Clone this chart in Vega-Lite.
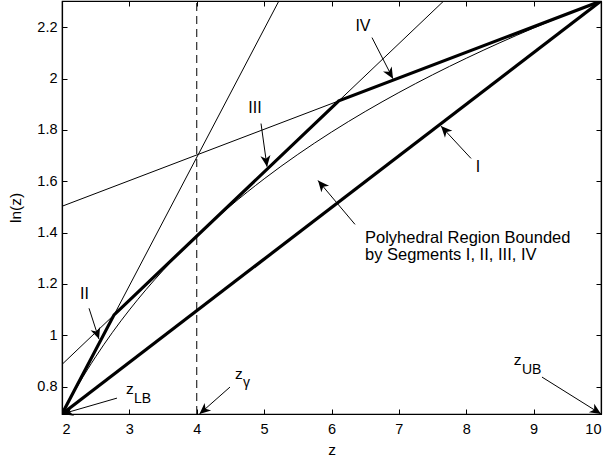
{
 "$schema": "https://vega.github.io/schema/vega-lite/v6.json",
 "width": 539, "height": 413,
 "autosize": "none",
 "padding": {"left": 62, "top": 1, "right": 8, "bottom": 47},
 "background": "white",
 "config": {
  "view": {"stroke": "black", "strokeWidth": 1.2},
  "font": "Liberation Sans",
  "axis": {"grid": false, "domainColor": "black", "domainWidth": 1.2, "tickColor": "black", "tickWidth": 1, "tickSize": -5, "labelFont": "Liberation Sans", "labelFontSize": 14.5, "labelColor": "black", "titleFont": "Liberation Sans", "titleFontSize": 15.5, "titleFontWeight": "normal", "titleColor": "black"}
 },
 "datasets": {
  "thin": [
   {"id": "ln", "z": 2, "y": 0.6931}, {"id": "ln", "z": 2.25, "y": 0.8109}, {"id": "ln", "z": 2.5, "y": 0.9163}, {"id": "ln", "z": 2.75, "y": 1.0116}, {"id": "ln", "z": 3, "y": 1.0986}, {"id": "ln", "z": 3.25, "y": 1.1787}, {"id": "ln", "z": 3.5, "y": 1.2528}, {"id": "ln", "z": 3.75, "y": 1.3218}, {"id": "ln", "z": 4, "y": 1.3863}, {"id": "ln", "z": 4.5, "y": 1.5041}, {"id": "ln", "z": 5, "y": 1.6094}, {"id": "ln", "z": 5.5, "y": 1.7047}, {"id": "ln", "z": 6, "y": 1.7918}, {"id": "ln", "z": 6.5, "y": 1.8718}, {"id": "ln", "z": 7, "y": 1.9459}, {"id": "ln", "z": 7.5, "y": 2.0149}, {"id": "ln", "z": 8, "y": 2.0794}, {"id": "ln", "z": 8.5, "y": 2.1401}, {"id": "ln", "z": 9, "y": 2.1972}, {"id": "ln", "z": 9.5, "y": 2.2513}, {"id": "ln", "z": 10, "y": 2.3026},
   {"id": "t2", "z": 2, "y": 0.6931}, {"id": "t2", "z": 5.2189, "y": 2.3026},
   {"id": "t4", "z": 2, "y": 0.8863}, {"id": "t4", "z": 7.6652, "y": 2.3026},
   {"id": "t10", "z": 2, "y": 1.5026}, {"id": "t10", "z": 10, "y": 2.3026}
  ],
  "thick": [
   {"id": "I", "z": 2, "y": 0.6931}, {"id": "I", "z": 10, "y": 2.3026},
   {"id": "up", "z": 2, "y": 0.6931}, {"id": "up", "z": 2.7726, "y": 1.0794}, {"id": "up", "z": 6.1087, "y": 1.9135}, {"id": "up", "z": 10, "y": 2.3026}
  ],
  "dash": [{"z": 4, "y": 0.6931, "ytop": 2.3026}],
  "arrows": [
   {"name": "II", "z": 2.549, "y": 0.985, "zs": 2.401, "ys": 1.105},
   {"name": "III", "z": 5.043, "y": 1.657, "zs": 4.954, "ys": 1.825},
   {"name": "IV", "z": 6.913, "y": 2.0, "zs": 6.601, "ys": 2.16},
   {"name": "I", "z": 7.625, "y": 1.815, "zs": 8.071, "ys": 1.689},
   {"name": "poly", "z": 5.8, "y": 1.603, "zs": 6.349, "ys": 1.432},
   {"name": "LB", "z": 2.0, "y": 0.6931, "zs": 2.816, "ys": 0.755},
   {"name": "gamma", "z": 4.04, "y": 0.6931, "zs": 4.493, "ys": 0.798},
   {"name": "UB", "z": 10.0, "y": 0.6931, "zs": 9.124, "ys": 0.837}
  ],
  "labels": [
   {"t": "II", "z": 2.334, "y": 1.16}, {"t": "III", "z": 4.865, "y": 1.884}, {"t": "IV", "z": 6.467, "y": 2.207}, {"t": "I", "z": 8.174, "y": 1.654}
  ],
  "zs": [
   {"t": "z", "z": 3.009, "y": 0.79}, {"t": "z", "z": 4.627, "y": 0.849}, {"t": "z", "z": 8.761, "y": 0.903}
  ],
  "subs": [
   {"t": "LB", "z": 3.069, "y": 0.752}, {"t": "γ", "z": 4.686, "y": 0.812}, {"t": "UB", "z": 8.827, "y": 0.865}
  ],
  "para": [
   {"t": "Polyhedral Region Bounded", "z": 6.497, "y": 1.36},
   {"t": "by Segments I, II, III, IV", "z": 6.497, "y": 1.295}
  ]
 },
 "encoding": {
  "x": {"field": "z", "type": "quantitative", "scale": {"domain": [2, 10], "nice": false, "zero": false}, "axis": null},
  "y": {"field": "y", "type": "quantitative", "scale": {"domain": [0.6931, 2.3026], "nice": false, "zero": false}, "axis": null}
 },
 "layer": [
  {
   "data": {"name": "thin"},
   "mark": {"type": "line", "color": "black", "strokeWidth": 1, "clip": true, "interpolate": "monotone"},
   "encoding": {
    "x": {"field": "z", "type": "quantitative", "scale": {"domain": [2, 10], "nice": false, "zero": false}, "axis": {"orient": "bottom", "values": [2,3,4,5,6,7,8,9,10], "format": "d", "title": "z", "labelPadding": 13, "titlePadding": 7}},
    "y": {"field": "y", "type": "quantitative", "scale": {"domain": [0.6931, 2.3026], "nice": false, "zero": false}, "axis": {"orient": "left", "values": [0.8,1,1.2,1.4,1.6,1.8,2,2.2], "format": ".1~f", "title": "ln(z)", "labelPadding": 10, "titlePadding": 13}},
    "detail": {"field": "id", "type": "nominal"}
   }
  },
  {
   "data": {"name": "thick"},
   "mark": {"type": "line", "color": "black", "strokeWidth": 3.2, "clip": true, "strokeJoin": "miter"},
   "encoding": {
    "x": {"field": "z", "type": "quantitative", "scale": {"domain": [2, 10], "nice": false, "zero": false}, "axis": {"orient": "top", "values": [2,3,4,5,6,7,8,9,10], "labels": false, "title": null}},
    "y": {"field": "y", "type": "quantitative", "scale": {"domain": [0.6931, 2.3026], "nice": false, "zero": false}, "axis": {"orient": "right", "values": [0.8,1,1.2,1.4,1.6,1.8,2,2.2], "labels": false, "title": null}},
    "detail": {"field": "id", "type": "nominal"}
   }
  },
  {
   "data": {"name": "dash"},
   "mark": {"type": "rule", "color": "black", "strokeWidth": 1, "strokeDash": [8, 5]},
   "encoding": {"y2": {"field": "ytop"}}
  },
  {
   "data": {"name": "arrows"},
   "mark": {"type": "rule", "color": "black", "strokeWidth": 1},
   "encoding": {"x2": {"field": "zs"}, "y2": {"field": "ys"}}
  },
  {"data": {"name": "arrows"}, "transform": [{"filter": "datum.name == 'II'"}], "mark": {"type": "point", "filled": true, "color": "black", "opacity": 1, "size": 500, "shape": "M0,0 L-0.45,1 L0,0.72 L0.45,1 Z", "angle": 161}},
  {"data": {"name": "arrows"}, "transform": [{"filter": "datum.name == 'III'"}], "mark": {"type": "point", "filled": true, "color": "black", "opacity": 1, "size": 500, "shape": "M0,0 L-0.45,1 L0,0.72 L0.45,1 Z", "angle": 171.9}},
  {"data": {"name": "arrows"}, "transform": [{"filter": "datum.name == 'IV'"}], "mark": {"type": "point", "filled": true, "color": "black", "opacity": 1, "size": 500, "shape": "M0,0 L-0.45,1 L0,0.72 L0.45,1 Z", "angle": 149.7}},
  {"data": {"name": "arrows"}, "transform": [{"filter": "datum.name == 'I'"}], "mark": {"type": "point", "filled": true, "color": "black", "opacity": 1, "size": 500, "shape": "M0,0 L-0.45,1 L0,0.72 L0.45,1 Z", "angle": 316.8}},
  {"data": {"name": "arrows"}, "transform": [{"filter": "datum.name == 'poly'"}], "mark": {"type": "point", "filled": true, "color": "black", "opacity": 1, "size": 500, "shape": "M0,0 L-0.45,1 L0,0.72 L0.45,1 Z", "angle": 320}},
  {"data": {"name": "arrows"}, "transform": [{"filter": "datum.name == 'LB'"}], "mark": {"type": "point", "filled": true, "color": "black", "opacity": 1, "size": 500, "shape": "M0,0 L-0.45,1 L0,0.72 L0.45,1 Z", "angle": 253.8}},
  {"data": {"name": "arrows"}, "transform": [{"filter": "datum.name == 'gamma'"}], "mark": {"type": "point", "filled": true, "color": "black", "opacity": 1, "size": 500, "shape": "M0,0 L-0.45,1 L0,0.72 L0.45,1 Z", "angle": 229.1}},
  {"data": {"name": "arrows"}, "transform": [{"filter": "datum.name == 'UB'"}], "mark": {"type": "point", "filled": true, "color": "black", "opacity": 1, "size": 500, "shape": "M0,0 L-0.45,1 L0,0.72 L0.45,1 Z", "angle": 122.1}},
  {
   "data": {"name": "labels"},
   "mark": {"type": "text", "font": "Liberation Sans", "fontSize": 16, "color": "black", "align": "center", "baseline": "middle"},
   "encoding": {"text": {"field": "t"}}
  },
  {
   "data": {"name": "zs"},
   "mark": {"type": "text", "font": "Liberation Sans", "fontSize": 15.5, "color": "black", "align": "center", "baseline": "middle"},
   "encoding": {"text": {"field": "t"}}
  },
  {
   "data": {"name": "subs"},
   "mark": {"type": "text", "font": "Liberation Sans", "fontSize": 14, "color": "black", "align": "left", "baseline": "middle"},
   "encoding": {"text": {"field": "t"}}
  },
  {
   "data": {"name": "para"},
   "mark": {"type": "text", "font": "Liberation Sans", "fontSize": 16.5, "color": "black", "align": "left", "baseline": "alphabetic"},
   "encoding": {"text": {"field": "t"}}
  }
 ],
 "resolve": {"axis": {"x": "independent", "y": "independent"}}
}
